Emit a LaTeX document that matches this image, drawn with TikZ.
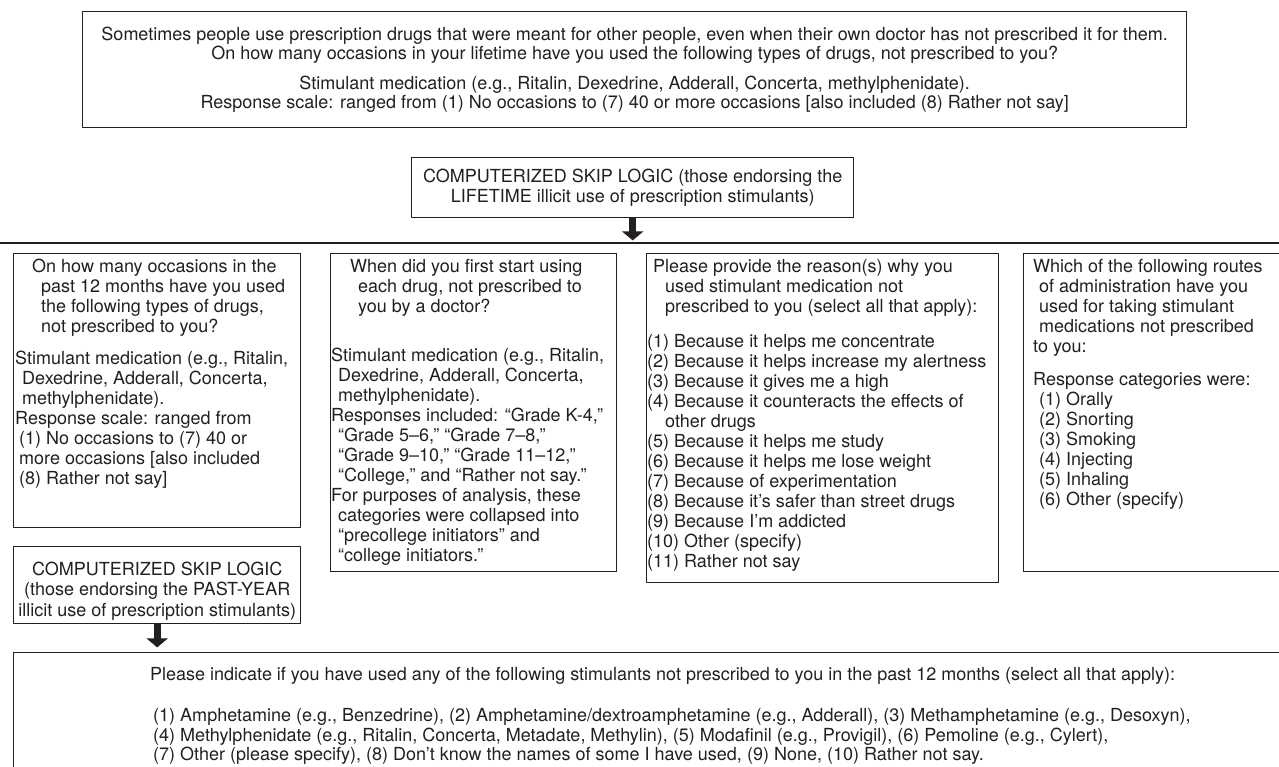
\documentclass[tikz,border=0pt]{standalone}
\usepackage{fontspec}
\setmainfont{TeX Gyre Heros}
\usetikzlibrary{arrows.meta,positioning}
\definecolor{ink}{HTML}{231F20}

\begin{document}
\begin{tikzpicture}[x=1pt, y=-1pt, line join=round,
    every node/.style={text=ink, font=\fontsize{18}{20}\selectfont},
    frame/.style={draw=ink, line width=1.4pt, inner sep=0pt, anchor=north west},
    txt/.style={align=left, inner sep=0pt},
    fatarrow/.style={draw=ink, line width=7pt, -{Triangle[width=21pt,length=9pt]}}]

    \useasboundingbox (0,0) rectangle (1279,767);
    \clip (0,0) rectangle (1279,767);

    % lifetime question
    \node[frame, align=center, minimum width=1104pt, minimum height=116pt,
          font=\fontsize{18}{19.2}\selectfont] (life) at (82,11)
        {Sometimes people use prescription drugs that were meant for other people, even when their own doctor has not prescribed it for them.\\
         On how many occasions in your lifetime have you used the following types of drugs, not prescribed to you?\\[10pt]
         Stimulant medication (e.g., Ritalin, Dexedrine, Adderall, Concerta, methylphenidate).\\
         Response scale: ranged from (1) No occasions to (7) 40 or more occasions [also included (8) Rather not say]};

    % skip logic, lifetime use
    \node[frame, align=center, minimum width=442pt, minimum height=60pt,
          font=\fontsize{18}{19.2}\selectfont] (skiplife) at (411,157)
        {COMPUTERIZED SKIP LOGIC (those endorsing the\\LIFETIME illicit use of prescription stimulants)};
    \coordinate (barW) at (0,243);
    \coordinate (barE) at (1279,243);
    \path (skiplife.south) ++(0,22) coordinate (lifetip);
    \draw[fatarrow] (skiplife.south) -- (lifetip);
    \draw[draw=ink, line width=1.4pt] (barW) -- (barE);

    % past-year frequency
    \node[frame, minimum width=287pt, minimum height=274pt] (past) at (13,253) {};
    \node[txt, below right=6pt and 2pt of past.north west] (pasttext)
        {\hspace*{17pt}On how many occasions in the\\
         \hspace*{26pt}past 12 months have you used\\
         \hspace*{26pt}the following types of drugs,\\
         \hspace*{26pt}not prescribed to you?\\[12pt]
         Stimulant medication (e.g., Ritalin,\\
         \hspace*{7pt}Dexedrine, Adderall, Concerta,\\
         \hspace*{7pt}methylphenidate).\\
         Response scale: ranged from\\
         \hspace*{4pt}(1) No occasions to (7) 40 or\\
         \hspace*{4pt}more occasions [also included\\
         \hspace*{4pt}(8) Rather not say]};

    % age of onset
    \node[frame, minimum width=286pt, minimum height=318pt] (onset) at (330,253) {};
    \node[txt, below right=6pt and 1pt of onset.north west] (onsettext)
        {\hspace*{19pt}When did you first start using\\
         \hspace*{27pt}each drug, not prescribed to\\
         \hspace*{27pt}you by a doctor?\\[29pt]
         Stimulant medication (e.g., Ritalin,\\
         \hspace*{7pt}Dexedrine, Adderall, Concerta,\\
         \hspace*{7pt}methylphenidate).\\
         Responses included: “Grade K-4,”\\
         \hspace*{7pt}“Grade 5–6,” “Grade 7–8,”\\
         \hspace*{7pt}“Grade 9–10,” “Grade 11–12,”\\
         \hspace*{7pt}“College,” and “Rather not say.”\\
         For purposes of analysis, these\\
         \hspace*{7pt}categories were collapsed into\\
         \hspace*{7pt}“precollege initiators” and\\
         \hspace*{7pt}“college initiators.”};

    % motives
    \node[frame, minimum width=352pt, minimum height=329pt] (motive) at (646,253) {};
    \node[txt, below right=6pt and 1pt of motive.north west] (motivetext)
        {\hspace*{6pt}Please provide the reason(s) why you\\
         \hspace*{18pt}used stimulant medication not\\
         \hspace*{18pt}prescribed to you (select all that apply):\\[15pt]
         (1) Because it helps me concentrate\\
         (2) Because it helps increase my alertness\\
         (3) Because it gives me a high\\
         (4) Because it counteracts the effects of\\
         \hspace*{18pt}other drugs\\
         (5) Because it helps me study\\
         (6) Because it helps me lose weight\\
         (7) Because of experimentation\\
         (8) Because it’s safer than street drugs\\
         (9) Because I’m addicted\\
         (10) Other (specify)\\
         (11) Rather not say};

    % routes of administration
    \node[frame, minimum width=280pt, minimum height=318pt] (route) at (1023,253) {};
    \node[txt, below right=6pt and 10pt of route.north west] (routetext)
        {Which of the following routes\\
         \hspace*{6pt}of administration have you\\
         \hspace*{6pt}used for taking stimulant\\
         \hspace*{6pt}medications not prescribed\\
         to you:\\[13pt]
         Response categories were:\\
         \hspace*{6pt}(1) Orally\\
         \hspace*{6pt}(2) Snorting\\
         \hspace*{6pt}(3) Smoking\\
         \hspace*{6pt}(4) Injecting\\
         \hspace*{6pt}(5) Inhaling\\
         \hspace*{6pt}(6) Other (specify)};

    % skip logic, past-year use
    \node[frame, minimum width=287pt, minimum height=77pt] (skippast) at (13,546) {};
    \node[align=center, inner sep=0pt, anchor=south, font=\fontsize{18}{20.5}\selectfont]
        (skippasttext) at ([shift={(0,-4)}]skippast.south)
        {COMPUTERIZED SKIP LOGIC\\(those endorsing the PAST-YEAR\\illicit use of prescription stimulants)};
    \path (skippast.south) ++(0,23) coordinate (pasttip);
    \draw[fatarrow] (skippast.south) -- (pasttip);

    % specific stimulants
    \node[frame, minimum width=1290pt, minimum height=140pt] (kind) at (13,652) {};
    \node[txt, below right=15pt and 137pt of kind.north west, font=\fontsize{18}{19.5}\selectfont] (kindtext)
        {Please indicate if you have used any of the following stimulants not prescribed to you in the past 12 months (select all that apply):\\[22pt]
         \hspace*{3pt}(1) Amphetamine (e.g., Benzedrine), (2) Amphetamine/dextroamphetamine (e.g., Adderall), (3) Methamphetamine (e.g., Desoxyn),\\
         \hspace*{3pt}(4) Methylphenidate (e.g., Ritalin, Concerta, Metadate, Methylin), (5) Modafinil (e.g., Provigil), (6) Pemoline (e.g., Cylert),\\
         \hspace*{3pt}(7) Other (please specify), (8) Don’t know the names of some I have used, (9) None, (10) Rather not say.};

\end{tikzpicture}
\end{document}
